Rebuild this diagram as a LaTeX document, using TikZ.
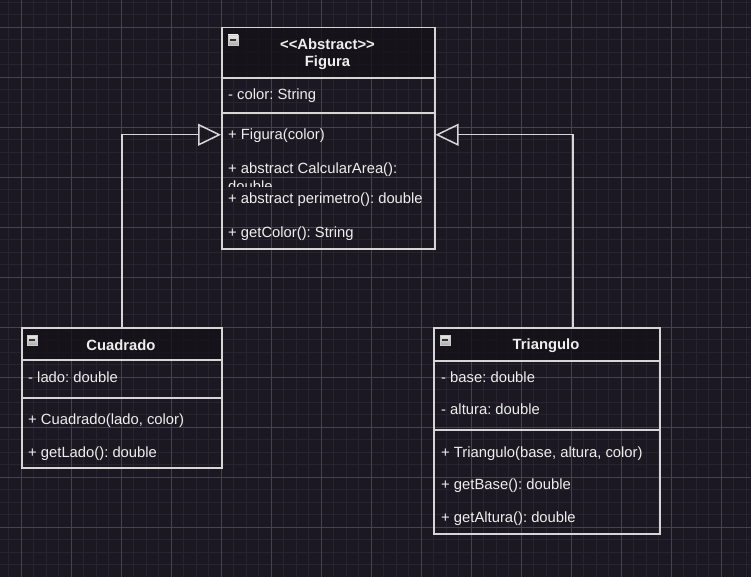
\documentclass[tikz,border=0pt]{standalone}
\usepackage{fontspec}
\setmainfont{Liberation Sans}
\usetikzlibrary{arrows.meta}
\definecolor{bg}{RGB}{27,24,33}
\definecolor{gminor}{RGB}{38,36,46}
\definecolor{gmajor}{RGB}{68,66,76}
\definecolor{edge}{RGB}{214,214,214}
\definecolor{hdr}{RGB}{20,17,24}
\definecolor{txtc}{RGB}{238,238,238}
\frenchspacing
\begin{document}
\begin{tikzpicture}[x=1pt,y=-1pt,
  classbox/.style={draw=edge, line width=1.5pt, inner sep=0pt, anchor=north west},
  hdrbox/.style={fill=hdr, fill opacity=0.75, draw=none, inner sep=0pt, anchor=north west},
  sep/.style={draw=edge, line width=1.5pt},
  conn/.style={draw=edge, line width=1.5pt, -{Triangle[open, length=23pt, width=22pt, line width=1.5pt]}},
  member/.style={text=txtc, inner sep=0pt, anchor=base west, font=\fontsize{14.8}{17}\selectfont},
  title/.style={text=txtc, inner sep=0pt, anchor=base, font=\bfseries\fontsize{14.8}{17}\selectfont},
  minusicon/.style={minimum size=10pt, inner sep=0pt, top color=gray!15, bottom color=gray!65, draw=gray!40, line width=0.5pt,
    path picture={\draw[black!80, line width=1.6pt] ([xshift=2pt]path picture bounding box.west) -- ([xshift=-2pt]path picture bounding box.east);}}
]
% background
\fill[bg] (0,0) rectangle (751,577);
\useasboundingbox (0,0) rectangle (751,577);
\foreach \i in {0,...,59} \draw[gminor, line width=0.8pt] (8.5+12.5*\i,0) -- (8.5+12.5*\i,577);
\foreach \i in {0,...,46} \draw[gminor, line width=0.8pt] (0,2+12.5*\i) -- (751,2+12.5*\i);
\foreach \i in {0,...,14} \draw[gmajor, line width=0.8pt] (21+50*\i,0) -- (21+50*\i,577);
\foreach \i in {0,...,11} \draw[gmajor, line width=0.8pt] (0,27+50*\i) -- (751,27+50*\i);

% ---------- Figura ----------
\node[hdrbox, minimum width=213pt, minimum height=51pt] (figh) at (221,27) {};
\node[classbox, minimum width=213pt, minimum height=221pt] (fig) at (221,27) {};
\draw[sep] ([yshift=-51pt]fig.north west) -- ([yshift=-51pt]fig.north east);
\draw[sep] ([yshift=-86pt]fig.north west) -- ([yshift=-86pt]fig.north east);
\node[minusicon] (figm) at (233,40) {};
\node[title] (figt1) at (327.5,50) {<\kern0pt<Abstract>\kern0pt>};
\node[title] (figt2) at (327.5,67) {Figura};
\node[member] (fa1) at (228,99.5) {- color: String};
\node[member] (fo1) at (228,139.5) {+ Figura(color)};
\node[member] (fo2) at (228,174) {+ abstract CalcularArea():};
\begin{scope}
  \clip (221,176) rectangle (434,187);
  \node[member] (fo2b) at (228,192) {double};
\end{scope}
\node[member] (fo3) at (228,204) {+ abstract perimetro(): double};
\node[member] (fo4) at (228,237.5) {+ getColor(): String};

% ---------- Cuadrado ----------
\node[hdrbox, minimum width=200pt, minimum height=33pt] (cuah) at (21,327) {};
\node[classbox, minimum width=200pt, minimum height=140pt] (cua) at (21,327) {};
\draw[sep] ([yshift=-33pt]cua.north west) -- ([yshift=-33pt]cua.north east);
\draw[sep] ([yshift=-71pt]cua.north west) -- ([yshift=-71pt]cua.north east);
\node[minusicon] (cuam) at (32,340) {};
\node[title] (cuat) at (121,350) {Cuadrado};
\node[member] (ca1) at (28,382.5) {- lado: double};
\node[member] (co1) at (28,424.5) {+ Cuadrado(lado, color)};
\node[member] (co2) at (28,457.5) {+ getLado(): double};

% ---------- Triangulo ----------
\node[hdrbox, minimum width=226pt, minimum height=34pt] (trih) at (433,327) {};
\node[classbox, minimum width=226pt, minimum height=206pt] (tri) at (433,327) {};
\draw[sep] ([yshift=-34pt]tri.north west) -- ([yshift=-34pt]tri.north east);
\draw[sep] ([yshift=-103pt]tri.north west) -- ([yshift=-103pt]tri.north east);
\node[minusicon] (trim) at (445,340) {};
\node[title] (trit) at (546,349.5) {Triangulo};
\node[member] (ta1) at (441,382.5) {- base: double};
\node[member] (ta2) at (441,414.5) {- altura: double};
\node[member] (to1) at (441,457) {+ Triangulo(base, altura, color)};
\node[member] (to2) at (441,489) {+ getBase(): double};
\node[member] (to3) at (441,522) {+ getAltura(): double};

% ---------- inheritance ----------
\coordinate (figL) at ([yshift=3.5pt]fig.west);
\coordinate (figR) at ([yshift=3.5pt]fig.east);
\coordinate (triT) at ([xshift=26pt]tri.north);
\draw[conn] (cua.north) |- (figL);
\draw[conn] (triT) |- (figR);
\end{tikzpicture}
\end{document}
